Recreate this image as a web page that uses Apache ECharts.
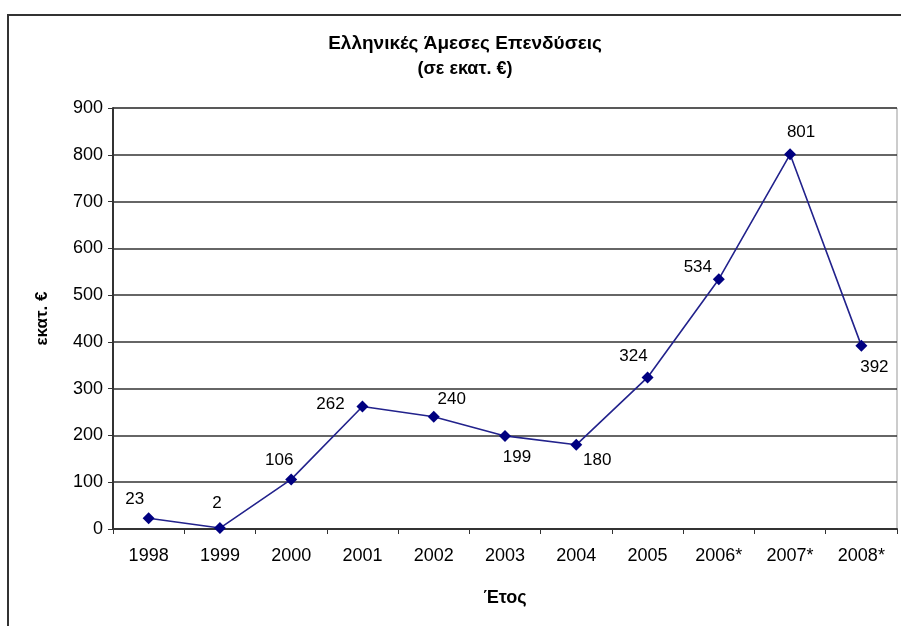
<!DOCTYPE html>
<html>
<head>
<meta charset="utf-8">
<script src="https://cdn.jsdelivr.net/npm/echarts@6/dist/echarts.min.js"></script>
<style>
  html, body { margin: 0; padding: 0; background: #fff; }
  #chart { width: 901px; height: 626px; }
</style>
</head>
<body>
<div id="chart"></div>
<script>
// Greek direct investment abroad, million euro
const years = ['1998', '1999', '2000', '2001', '2002', '2003', '2004', '2005', '2006*', '2007*', '2008*'];
const investment = [23, 2, 106, 262, 240, 199, 180, 324, 534, 801, 392];

// where each value label sits relative to its marker (px)
const labelOffsets = [
  [-14, -19], [-3, -25], [-12, -19], [-32, -2], [18, -17], [12, 21],
  [21, 16], [-14, -21], [-21, -12], [11, -22], [13, 22]
];

const FONT = '"Liberation Sans", Arial, sans-serif';

const seriesData = investment.map((v, i) => ({
  value: v,
  label: { show: true, position: 'inside', offset: labelOffsets[i] }
}));

const chart = echarts.init(document.getElementById('chart'), null, { renderer: 'canvas' });
chart.setOption({
  animation: false,
  backgroundColor: '#fff',
  textStyle: { fontFamily: FONT },
  graphic: [{
    type: 'rect',
    shape: { x: 8, y: 15, width: 1000, height: 1000 },
    style: { fill: 'none', stroke: '#333', lineWidth: 2 },
    z: -1
  }],
  title: {
    text: 'Ελληνικές Άμεσες Επενδύσεις',
    subtext: '(σε εκατ. €)',
    left: 460,
    textAlign: 'center',
    top: 29,
    itemGap: 7,
    textStyle: { fontFamily: FONT, fontSize: 19, fontWeight: 'bold', color: '#000' },
    subtextStyle: { fontFamily: FONT, fontSize: 18, fontWeight: 'bold', color: '#000' }
  },
  grid: {
    left: 113, right: 4, top: 108, bottom: 97,
    show: true, borderColor: '#999', borderWidth: 1
  },
  xAxis: {
    type: 'category',
    data: years,
    boundaryGap: true,
    name: 'Έτος',
    nameLocation: 'middle',
    nameGap: 60,
    nameTextStyle: { fontFamily: FONT, fontSize: 18, fontWeight: 'bold', color: '#000' },
    axisLine: { lineStyle: { color: '#333', width: 2 } },
    axisTick: { show: true, length: 5, alignWithLabel: false, lineStyle: { color: '#333' } },
    axisLabel: { fontFamily: FONT, fontSize: 18, color: '#000', margin: 18 }
  },
  yAxis: {
    type: 'value',
    min: 0, max: 900, interval: 100,
    name: 'εκατ. €',
    nameLocation: 'middle',
    nameGap: 62,
    nameRotate: 90,
    nameTextStyle: { fontFamily: FONT, fontSize: 17, fontWeight: 'bold', color: '#000' },
    axisLine: { show: true, lineStyle: { color: '#333', width: 2 } },
    axisTick: { show: true, length: 5, lineStyle: { color: '#333' } },
    axisLabel: { fontFamily: FONT, fontSize: 18, color: '#000', margin: 10 },
    splitLine: { show: true, lineStyle: { color: '#333', width: 1.5 } }
  },
  series: [{
    type: 'line',
    data: seriesData,
    symbol: 'diamond',
    symbolSize: 12,
    lineStyle: { color: '#22228c', width: 1.6 },
    itemStyle: { color: '#000080' },
    label: { fontFamily: FONT, fontSize: 17, color: '#000' }
  }]
});
</script>
</body>
</html>
